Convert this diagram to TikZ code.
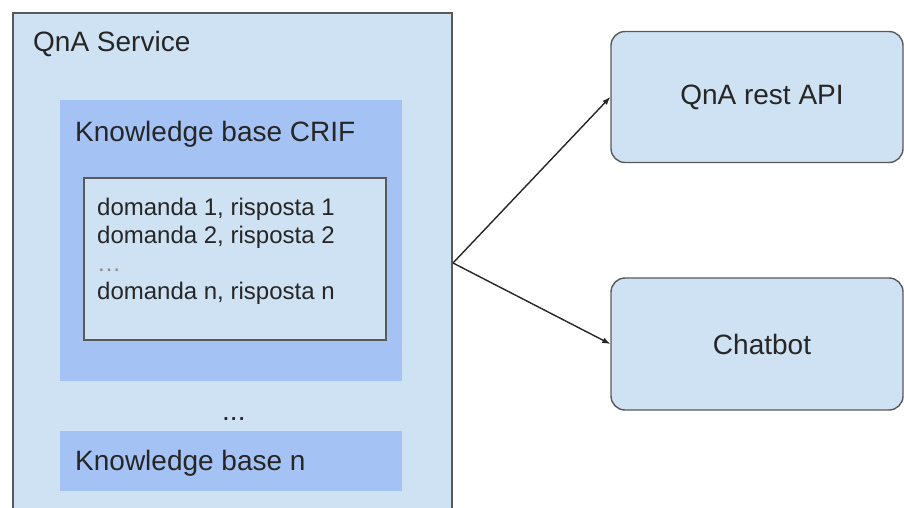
\documentclass[tikz,border=0pt]{standalone}
\usepackage{fontspec}
\setmainfont{Liberation Sans}
\usetikzlibrary{arrows.meta}

\definecolor{svcfill}{HTML}{CFE2F3}
\definecolor{kbfill}{HTML}{A4C2F4}
\definecolor{edgegray}{HTML}{595959}
\definecolor{inkgray}{HTML}{262626}

\tikzset{
  svcbox/.style={draw=edgegray, line width=2pt, fill=svcfill, anchor=north west, inner sep=0pt},
  kbbox/.style={fill=kbfill, anchor=north west, inner sep=0pt},
  appbox/.style={draw=edgegray, line width=1.4pt, fill=svcfill, rounded corners=14pt,
    minimum width=292pt, minimum height=131pt, font=\fontsize{28}{32}\selectfont, text=inkgray},
  title/.style={anchor=base west, inner sep=0pt, font=\fontsize{28}{32}\selectfont, text=inkgray},
  entry/.style={anchor=base west, inner sep=0pt, font=\fontsize{24}{28}\selectfont, text=inkgray},
  link/.style={draw=inkgray, line width=1.4pt, -{Latex[length=8pt,width=6pt]}}
}

\begin{document}
\begin{tikzpicture}[x=1pt,y=-1pt]
    \useasboundingbox (0,0) rectangle (904,508);

    % service container, runs off the bottom
    \node[svcbox, minimum width=439pt, minimum height=500pt] (svc) at (12,12) {};
    \node[title] (svcname) at (33,52) {QnA Service};

    % first knowledge base
    \node[kbbox, minimum width=342pt, minimum height=281pt] (kbcrif) at (60,100) {};
    \node[title] (crifname) at (75,142) {Knowledge base CRIF};

    \node[svcbox, minimum width=302pt, minimum height=162pt] (qa) at (83,177) {};
    \foreach \txt/\y [count=\i] in {{domanda 1, risposta 1}/215, {domanda 2, risposta 2}/243, {domanda n, risposta n}/299}
    {
        \node[entry] (q\i) at (97,\y) {\txt};
    }
    \node[entry, text=edgegray!70] (qdots) at (97,271) {…};

    % last knowledge base
    \node[title] (more) at (222,420) {...};
    \node[kbbox, minimum width=342pt, minimum height=60pt] (kbn) at (60,431) {};
    \node[title] (nname) at (75,470) {Knowledge base n};

    % consumers
    \node[appbox] (api) at (757,97) {\hspace*{10pt}QnA rest API};
    \node[appbox, minimum height=132pt] (bot) at (757,344) {\hspace*{10pt}Chatbot};

    \draw[link] (svc.east) -- (api.west);
    \draw[link] (svc.east) -- (bot.west);
\end{tikzpicture}
\end{document}
